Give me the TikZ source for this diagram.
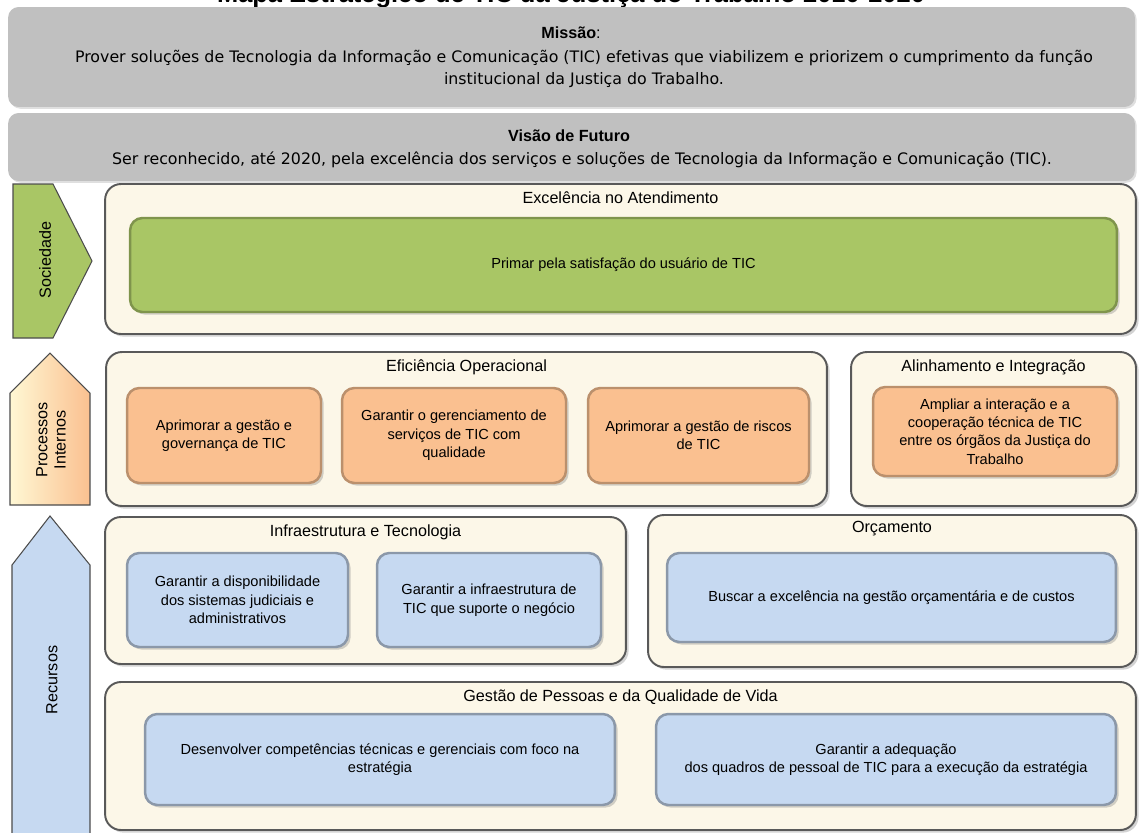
\documentclass[tikz,border=0pt]{standalone}
\usepackage{fontspec}
\setsansfont{Liberation Sans}
\newfontfamily\verdana{DejaVu Sans}
\usetikzlibrary{positioning,shadows}
\definecolor{panelgray}{RGB}{192,192,192}
\definecolor{cream}{RGB}{252,247,232}
\definecolor{goalgreen}{RGB}{169,198,101}
\definecolor{goalorange}{RGB}{250,192,144}
\definecolor{goalblue}{RGB}{198,217,241}
\definecolor{paleyellow}{RGB}{255,248,212}
\tikzset{
    %Define style for the grey header boxes
    header/.style={
           rectangle,
           rounded corners=6pt,
           fill=panelgray,
           drop shadow={opacity=0.25,shadow xshift=1pt,shadow yshift=-1pt},
           minimum width=22.54cm},
    %Define style for the theme containers
    panel/.style={
           rectangle,
           rounded corners=9pt,
           fill=cream,
           draw=black!65, line width=1.1pt,
           drop shadow={opacity=0.35,shadow xshift=1.5pt,shadow yshift=-1.5pt}},
    %Define style for the objective boxes
    goal/.style={
           rectangle,
           rounded corners=7pt,
           line width=1.4pt,
           align=center,
           font=\sffamily\fontsize{8.3}{10.5}\selectfont,
           drop shadow={opacity=0.35,shadow xshift=1.5pt,shadow yshift=-1.5pt}},
    green goal/.style={goal, fill=goalgreen, draw=goalgreen!75!black},
    orange goal/.style={goal, fill=goalorange, draw=goalorange!75!black},
    blue goal/.style={goal, fill=goalblue, draw=goalblue!70!black},
    heading/.style={
          inner sep=0pt,
          font=\sffamily\fontsize{9.2}{11}\selectfont},
    annote/.style={
          align=center,
          font=\verdana\fontsize{9}{13}\selectfont},
    boldtitle/.style={
          font=\sffamily\bfseries\fontsize{9.2}{11}\selectfont},
    % Define style for the perspective arrows
    side/.style={draw=black!70, line width=0.6pt},
    sidelabel/.style={
          rotate=90,
          align=center,
          font=\sffamily\fontsize{9.2}{10.5}\selectfont},
}

\begin{document}
\begin{tikzpicture}[x=0.02cm,y=-0.02cm]
  \useasboundingbox (0,0) rectangle (1139,832);
  \clip (0,0) rectangle (1139,832);
  \node[font=\sffamily\bfseries\fontsize{14.5}{17}\selectfont, anchor=base] (title) at (571,2)
       {Mapa Estratégico de TIC da Justiça do Trabalho 2010-2020};

  % mission and vision
  \node[header, minimum height=2.0cm] (mis) at (571.5,57) {};
  \node[boldtitle] (mistit) at (571,33) {Missão\textmd{:}};
  \node[annote] (mistxt) at (584,69) {Prover soluções de Tecnologia da Informação e Comunicação (TIC) efetivas que viabilizem e priorizem o cumprimento da função\\institucional da Justiça do Trabalho.};
  \node[header, minimum height=1.36cm] (vis) at (571.5,147) {};
  \node[boldtitle] (vistit) at (569,136) {Visão de Futuro};
  \node[annote] (vistxt) at (582,160) {Ser reconhecido, até 2020, pela excelência dos serviços e soluções de Tecnologia da Informação e Comunicação (TIC).};

  % perspectives
  \draw[side, fill=goalgreen] (13,184) -- (53,184) -- (92,261) -- (53,338) -- (13,338) -- cycle;
  \node[sidelabel] (soc) at (45,260) {Sociedade};
  \draw[side, left color=paleyellow, right color=goalorange] (10,505) -- (10,393) -- (50,353) -- (90,393) -- (90,505) -- cycle;
  \node[sidelabel] (proc) at (51,440) {Processos\\Internos};
  \draw[side, fill=goalblue] (12,840) -- (12,565) -- (50,516) -- (90,565) -- (90,840) -- cycle;
  \node[sidelabel] (rec) at (52,680) {Recursos};

  % Sociedade
  \node[panel, minimum width=20.62cm, minimum height=3.0cm] (exc) at (620.5,259) {};
  \node[heading, below=0.17cm of exc.north] (exct) {Excelência no Atendimento};
  \node[green goal, minimum width=19.74cm, minimum height=1.88cm] (sat) at (623.5,265) {Primar pela satisfação do usuário de TIC};

  % Processos Internos
  \node[panel, minimum width=14.42cm, minimum height=3.08cm] (efi) at (466.5,429) {};
  \node[heading, below=0.17cm of efi.north] (efit) {Eficiência Operacional};
  \node[orange goal, minimum width=3.88cm, minimum height=1.9cm] (gov) at (224,435.5) {Aprimorar a gestão e\\governança de TIC};
  \node[orange goal, minimum width=4.48cm, minimum height=1.9cm] (serv) at (454,435.5) {Garantir o gerenciamento de\\serviços de TIC com\\qualidade};
  \node[orange goal, minimum width=4.42cm, minimum height=1.9cm] (risc) at (698.5,435.5) {Aprimorar a gestão de riscos\\de TIC};
  \node[panel, minimum width=5.7cm, minimum height=3.08cm] (ali) at (993.5,429) {};
  \node[heading, below=0.17cm of ali.north] (alit) {Alinhamento e Integração};
  \node[orange goal, minimum width=4.88cm, minimum height=1.78cm] (coop) at (995,431.5) {Ampliar a interação e a\\cooperação técnica de TIC\\entre os órgãos da Justiça do\\Trabalho};

  % Recursos
  \node[panel, minimum width=10.42cm, minimum height=2.94cm] (inf) at (365.5,590.5) {};
  \node[heading, below=0.17cm of inf.north] (inft) {Infraestrutura e Tecnologia};
  \node[blue goal, minimum width=4.42cm, minimum height=1.88cm] (disp) at (237.5,600) {Garantir a disponibilidade\\dos sistemas judiciais e\\administrativos};
  \node[blue goal, minimum width=4.48cm, minimum height=1.88cm] (infra) at (489,600) {Garantir a infraestrutura de\\TIC que suporte o negócio};
  \node[panel, minimum width=9.76cm, minimum height=3.04cm] (orc) at (892,591) {};
  \node[heading, below=0.14cm of orc.north] (orct) {Orçamento};
  \node[blue goal, minimum width=8.98cm, minimum height=1.78cm] (cust) at (891.5,597.5) {Buscar a excelência na gestão orçamentária e de custos};
  \node[panel, minimum width=20.62cm, minimum height=2.96cm] (ges) at (620.5,756) {};
  \node[heading, below=0.17cm of ges.north] (gest) {Gestão de Pessoas e da Qualidade de Vida};
  \node[blue goal, minimum width=9.4cm, minimum height=1.82cm] (comp) at (380,759.5) {Desenvolver competências técnicas e gerenciais com foco na\\estratégia};
  \node[blue goal, minimum width=9.2cm, minimum height=1.82cm] (quad) at (886,759.5) {Garantir a adequação\\dos quadros de pessoal de TIC para a execução da estratégia};
\end{tikzpicture}
\end{document}
